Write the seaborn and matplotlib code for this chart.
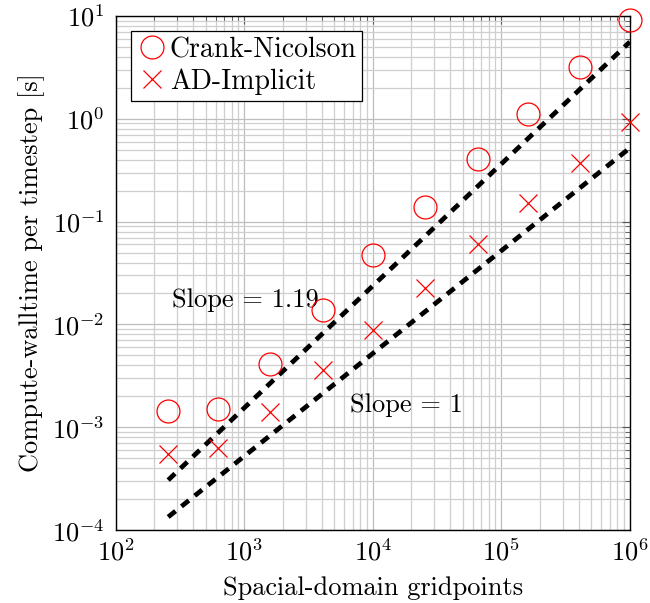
import numpy as np
import pandas as pd
import matplotlib
matplotlib.use("Agg")
import matplotlib.pyplot as plt
import seaborn as sns
from matplotlib.ticker import LogLocator, NullFormatter

gridpoints = [256, 625, 1600, 4096, 10000, 25600, 65536, 160000, 409600, 1000000]
crank_nicolson = [1.43e-3, 1.5e-3, 4.1e-3, 0.0137, 0.0478, 0.14, 0.41, 1.12, 3.2, 9.1]
ad_implicit = [5.5e-4, 6.25e-4, 1.4e-3, 3.57e-3, 8.9e-3, 0.0224, 0.061, 0.15, 0.374, 0.935]
fit_x = [256, 1000000]
fit_steep = [3.06e-4, 5.6]
fit_linear = [1.34e-4, 0.52]
slope_labels = ["Slope = 1.19", "Slope = 1"]

sns.set_theme(style="white")
plt.rcParams["font.family"] = ["cmr10", "DejaVu Serif"]
plt.rcParams["mathtext.fontset"] = "cm"
plt.rcParams["axes.formatter.use_mathtext"] = True
plt.rcParams["text.color"] = "black"
plt.rcParams["axes.labelcolor"] = "black"

fig, ax = plt.subplots(figsize=(6.5, 6.03), dpi=100)
fig.subplots_adjust(left=0.178, right=0.969, top=0.9735, bottom=0.121)

df = pd.DataFrame({"x": gridpoints, "cn": crank_nicolson, "ad": ad_implicit})

sns.lineplot(x=fit_x, y=fit_steep, ax=ax, color="black", linewidth=3.4,
             linestyle=(0, (2, 1.6)), zorder=3)
sns.lineplot(x=fit_x, y=fit_linear, ax=ax, color="black", linewidth=3.4,
             linestyle=(0, (2, 1.6)), zorder=3)

ax.plot(df["x"], df["cn"], linestyle="none", marker="o", markersize=16.5,
        markerfacecolor="none", markeredgecolor="red", markeredgewidth=0.9,
        label="Crank-Nicolson", zorder=4, clip_on=False)
ax.plot(df["x"], df["ad"], linestyle="none", marker="x", markersize=12.5,
        color="red", markeredgewidth=0.9, label="AD-Implicit", zorder=4, clip_on=False)

ax.set_xscale("log")
ax.set_yscale("log")
ax.set_xlim(1e2, 1e6)
ax.set_ylim(1e-4, 1e1)

ax.xaxis.set_major_locator(LogLocator(base=10, numticks=10))
ax.yaxis.set_major_locator(LogLocator(base=10, numticks=10))
ax.xaxis.set_minor_locator(LogLocator(base=10, subs=np.arange(2, 10), numticks=100))
ax.yaxis.set_minor_locator(LogLocator(base=10, subs=np.arange(2, 10), numticks=100))
ax.xaxis.set_minor_formatter(NullFormatter())
ax.yaxis.set_minor_formatter(NullFormatter())

ax.grid(True, which="major", color="#bdbdbd", linewidth=0.9)
ax.grid(True, which="minor", color="#cfcfcf", linewidth=0.9)
ax.set_axisbelow(True)

ax.tick_params(which="both", direction="in", top=True, right=True,
               colors="#555555", labelcolor="black")
ax.tick_params(which="major", length=6, width=0.8, labelsize=19)
ax.tick_params(axis="y", which="major", pad=8)
ax.tick_params(axis="x", which="major", pad=6)
ax.tick_params(which="minor", length=3.5, width=0.6)
for s in ax.spines.values():
    s.set_color("black")
    s.set_linewidth(1.0)

ax.set_xlabel("Spacial-domain gridpoints", fontsize=19, labelpad=8)
ax.set_ylabel("Compute-walltime per timestep [s]", fontsize=19, labelpad=5)

ax.text(274, 1.73e-2, slope_labels[0], fontsize=19, ha="left", va="center")
ax.text(6636, 1.64e-3, slope_labels[1], fontsize=19, ha="left", va="center")

leg = ax.legend(loc="upper left", fontsize=20, frameon=True, fancybox=False,
                edgecolor="black", framealpha=1, borderpad=0.2, handletextpad=0.1,
                handlelength=1.1, labelspacing=0.2, borderaxespad=0.55)
leg.get_frame().set_linewidth(0.9)

fig.savefig("out.png", dpi=100)
